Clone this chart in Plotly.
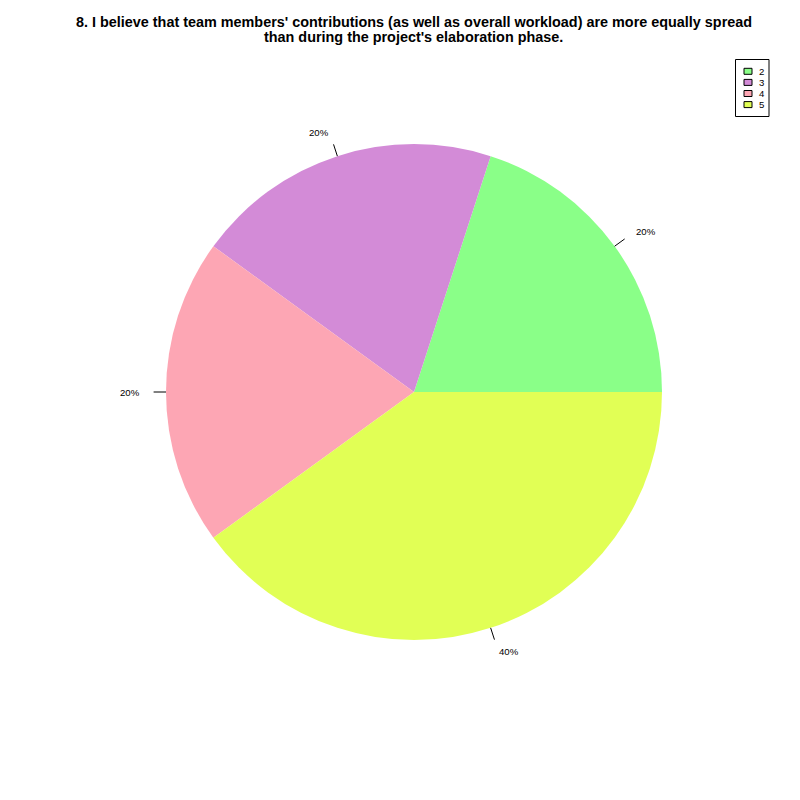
import math
import plotly.graph_objects as go

labels = ["2", "3", "4", "5"]
values = [1, 1, 1, 2]
colors = ["#8AFF88", "#D38BD7", "#FDA6B4", "#E1FF55"]
title_lines = ["8. I believe that team members' contributions (as well as overall workload) are more equally spread",
               "than during the project's elaboration phase."]

W = H = 800
OFF = 8  # page body margin in the browser


def px(x):
    return (x - OFF) / W


def py(y):
    return 1 - (y - OFF) / H


cx, cy, R = 414, 392, 248  # target pixel center/radius of the pie

total = sum(values)
fig = go.Figure()
fig.add_trace(go.Pie(
    labels=labels, values=values, sort=False, direction="counterclockwise",
    rotation=90 - 360 * values[0] / total, textinfo="none", hoverinfo="label+percent",
    marker=dict(colors=colors, line=dict(width=0)), showlegend=False,
    domain=dict(x=[px(cx - R), px(cx + R)], y=[py(cy + R), py(cy - R)]),
))

cum = 0
shapes, annotations = [], []
for v in values:
    mid = 2 * math.pi * (cum + v / 2) / total
    cum += v
    c, s = math.cos(mid), math.sin(mid)
    x0, y0 = cx + R * c, cy - R * s
    x1, y1 = cx + 1.05 * R * c, cy - 1.05 * R * s
    xt, yt = cx + 1.1 * R * c, cy - 1.1 * R * s
    shapes.append(dict(type="line", xref="paper", yref="paper",
                       x0=px(x0), y0=py(y0), x1=px(x1), y1=py(y1),
                       line=dict(color="black", width=1)))
    annotations.append(dict(text=f"{round(100 * v / total)}%", xref="paper", yref="paper",
                            x=px(xt), y=py(yt), showarrow=False, borderpad=0,
                            xanchor="left" if c > 0.01 else ("right" if c < -0.01 else "center"),
                            yanchor="middle", font=dict(size=9.6, color="black")))

# title lines
for i, t in enumerate(title_lines):
    annotations.append(dict(text=f"<b>{t}</b>", xref="paper", yref="paper", x=px(414), y=py(22 + 15 * i),
                            showarrow=False, xanchor="center", yanchor="middle",
                            font=dict(size=14.4, color="black")))

# legend box
lx0, lx1, ly0, ly1 = 735.5, 769, 59.5, 116.5
first, step = 71.3, 11.1
shapes.append(dict(type="rect", xref="paper", yref="paper", x0=px(lx0), x1=px(lx1),
                   y0=py(ly1), y1=py(ly0),
                   line=dict(color="black", width=1), fillcolor="rgba(0,0,0,0)"))
for i, (lab, col) in enumerate(zip(labels, colors)):
    yc = first + step * i
    shapes.append(dict(type="rect", xref="paper", yref="paper", x0=px(744), x1=px(752),
                       y0=py(yc + 3), y1=py(yc - 3), fillcolor=col,
                       line=dict(color="black", width=1)))
    annotations.append(dict(text=lab, xref="paper", yref="paper", x=px(758), y=py(yc),
                            showarrow=False, xanchor="left", yanchor="middle", borderpad=0,
                            font=dict(size=9.6, color="black")))

fig.update_layout(
    width=W, height=H, margin=dict(l=0, r=0, t=0, b=0),
    paper_bgcolor="white", plot_bgcolor="white",
    font=dict(family="Liberation Sans, Arial, sans-serif", color="black"),
    shapes=shapes, annotations=annotations, showlegend=False,
)
fig.write_html("out.html")
